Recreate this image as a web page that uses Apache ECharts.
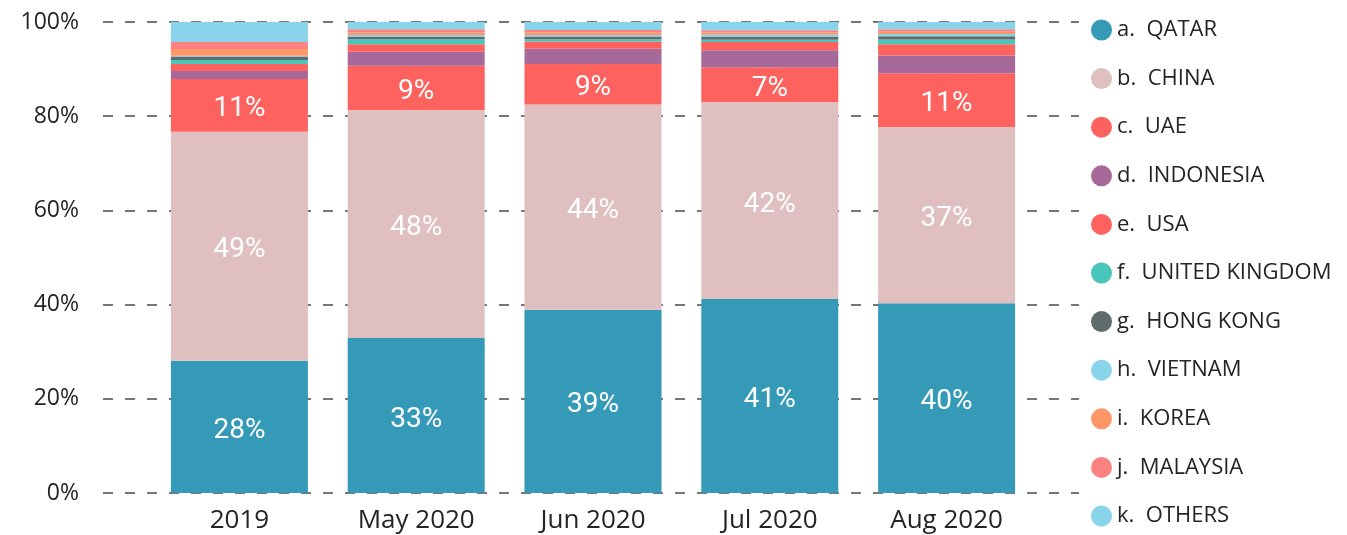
<!DOCTYPE html>
<html>
<head>
<meta charset="utf-8">
<script src="https://cdn.jsdelivr.net/npm/echarts@6/dist/echarts.min.js"></script>
<style>
  html, body { margin: 0; padding: 0; background: #fff; }
  #chart { width: 1347px; height: 535px; }
</style>
</head>
<body>
<div id="chart"></div>
<script>
// x categories
var categories = ['2019', 'May 2020', 'Jun 2020', 'Jul 2020', 'Aug 2020'];
// share per country (%), bottom to top
var qatar     = [28.1, 32.9, 38.9, 41.2, 40.3];
var china     = [48.6, 48.4, 43.6, 41.8, 37.4];
var uae       = [11.2, 9.4, 8.6, 7.4, 11.4];
var indonesia = [1.7, 3.0, 3.2, 3.6, 3.8];
var usa       = [1.5, 1.6, 1.55, 1.75, 2.35];
var uk        = [0.85, 1.05, 0.5, 0.5, 1.05];
var hongKong  = [0.7, 0.45, 0.55, 0.55, 0.65];
var vietnam   = [0.2, 0.45, 0.35, 0.5, 0.5];
var korea     = [1.4, 0.5, 0.6, 0.45, 0.5];
var malaysia  = [1.5, 0.7, 0.45, 0.5, 0.5];
var others    = [4.25, 1.55, 1.7, 1.75, 1.55];

var seriesNames = ['a.  QATAR', 'b.  CHINA', 'c.  UAE', 'd.  INDONESIA', 'e.  USA',
  'f.  UNITED KINGDOM', 'g.  HONG KONG', 'h.  VIETNAM', 'i.  KOREA', 'j.  MALAYSIA', 'k.  OTHERS'];
var seriesData = [qatar, china, uae, indonesia, usa, uk, hongKong, vietnam, korea, malaysia, others];
var colors = ['#3599B8', '#DFBFBF', '#FD625E', '#A66999', '#FD625E', '#4AC5BB',
  '#5F6B6D', '#8AD4EB', '#FE9666', '#FB8281', '#8AD4EB'];

var txt = '#252423';
var font = '"Open Sans", "Noto Sans", sans-serif';

var myChart = echarts.init(document.getElementById('chart'));

var series = seriesNames.map(function (name, i) {
  return {
    name: name,
    type: 'bar',
    stack: 'total',
    xAxisIndex: 1,
    yAxisIndex: 1,
    barWidth: 137,
    data: seriesData[i],
    itemStyle: { color: colors[i] },
    label: {
      show: i < 3, //只显示前三个
      position: 'inside',
      color: '#fff',
      fontFamily: 'Roboto, sans-serif',
      fontSize: 28,
      offset: [0, 4],
      formatter: function (p) { return Math.round(p.value) + '%'; }
    }
  };
});

myChart.setOption({
  animation: false,
  color: colors,
  grid: [
    { left: 103, right: 268, top: 22, bottom: 42 }, // gridlines + y labels
    { left: 151, right: 312, top: 22, bottom: 42 }  // bars
  ],
  legend: {
    orient: 'vertical',
    left: 1091,
    top: 19,
    padding: 0,
    icon: 'circle',
    itemWidth: 21,
    itemHeight: 21,
    itemGap: 26.6,
    itemStyle: { borderWidth: 0 },
    textStyle: { color: txt, fontFamily: font, fontSize: 22 },
    data: seriesNames
  },
  xAxis: [
    { type: 'category', gridIndex: 0, show: false, data: categories },
    {
      type: 'category', gridIndex: 1, data: categories,
      axisLine: { show: false }, axisTick: { show: false },
      axisLabel: { color: txt, fontFamily: font, fontSize: 26, margin: 15 }
    }
  ],
  yAxis: [
    {
      type: 'value', gridIndex: 0, min: 0, max: 100, interval: 20,
      axisLine: { show: false }, axisTick: { show: false },
      axisLabel: { color: txt, fontFamily: font, fontSize: 23, margin: 24, formatter: '{value}%' },
      splitLine: { lineStyle: { color: '#777', width: 2, type: [10, 12] } }
    },
    {
      type: 'value', gridIndex: 1, min: 0, max: 100, show: false,
      splitLine: { show: false }
    }
  ],
  series: series
});
</script>
</body>
</html>
